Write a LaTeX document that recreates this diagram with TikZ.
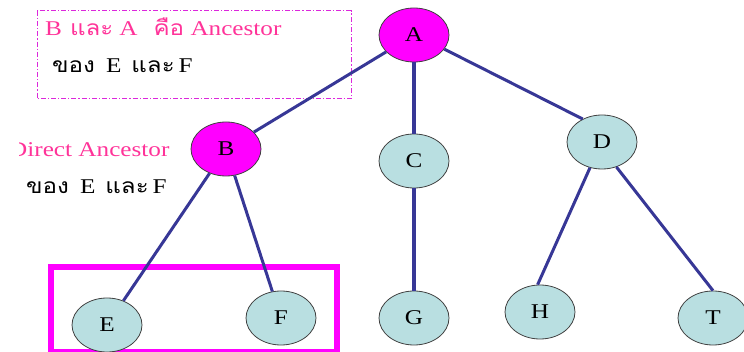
\documentclass[tikz,border=0pt]{standalone}
\usepackage{fontspec}
\setmainfont[FakeStretch=1.2]{Liberation Serif}
\newfontfamily\thaifont[Script=Thai,FakeStretch=1.15]{Loma}
\newcommand{\thtxt}[1]{{\thaifont #1}}
\usetikzlibrary{shapes.geometric}
\definecolor{edgeblue}{RGB}{55,55,150}
\definecolor{leafteal}{RGB}{185,223,225}
\definecolor{hotpink}{RGB}{255,51,153}
\definecolor{boxmag}{RGB}{220,40,220}
\definecolor{rootmag}{RGB}{255,0,255}
\tikzset{
  treenode/.style={ellipse, draw=black!75, line width=0.8pt, minimum width=70pt,
    minimum height=54pt, inner sep=0pt, fill=leafteal,
    font=\fontsize{21}{21}\selectfont},
  ancnode/.style={treenode, fill=rootmag},
  edge/.style={draw=edgeblue, line width=3pt},
  trunk/.style={draw=edgeblue, line width=4.6pt},
  pinktext/.style={text=hotpink, inner sep=0pt, font=\fontsize{21}{21}\selectfont},
  blacktext/.style={text=black, inner sep=0pt, font=\fontsize{21}{21}\selectfont},
}
\begin{document}
\begin{tikzpicture}[x=1pt,y=-1pt]
\useasboundingbox (0,0) rectangle (744,352);

% note box
\draw[boxmag, line width=1pt, dash pattern=on 5pt off 2pt on 1.2pt off 2pt]
  (37,11) rectangle (351,99);
\node[pinktext, anchor=base west] (noteA) at (45,36)
  {B\hspace{8pt}\thtxt{และ}\hspace{6pt}A\hspace{16pt}\thtxt{คือ} Ancestor};
\node[blacktext, anchor=base west] (noteB) at (52,73)
  {\thtxt{ของ}\hspace{11pt}E\hspace{10pt}\thtxt{และ}\hspace{4pt}F};

% direct ancestor note
\begin{scope}
  \clip (19,120) rectangle (200,170);
  \node[pinktext, anchor=base west] (noteC) at (9,157) {Direct Ancestor};
\end{scope}
\node[blacktext, anchor=base west] (noteD) at (26,194)
  {\thtxt{ของ}\hspace{11pt}E\hspace{10pt}\thtxt{และ}\hspace{4pt}F};

% frame around E and F
\draw[rootmag, line width=6pt] (51,267) rectangle (337,352);

% tree nodes
\node[ancnode] (A) at (414,35) {A};
\node[ancnode] (B) at (226,149) {B};
\node[treenode] (C) at (414,161) {C};
\node[treenode] (D) at (602,142) {D};
\node[treenode] (E) at (107,325) {E};
\node[treenode] (F) at (281,318) {F};
\node[treenode] (G) at (414,318) {G};
\node[treenode] (H) at (540,312) {H};
\node[treenode] (T) at (713,318) {T};

% connectors
\draw[edge] (A) -- (B);
\draw[trunk] (A) -- (C);
\draw[edge] (A.-25) -- (D.130);
\draw[edge] (B) -- (E);
\draw[edge] (B) -- (F);
\draw[trunk] (C) -- (G);
\draw[edge] (D.-115) -- (H.95);
\draw[edge] (D.-60) -- (T.north);
\end{tikzpicture}
\end{document}
